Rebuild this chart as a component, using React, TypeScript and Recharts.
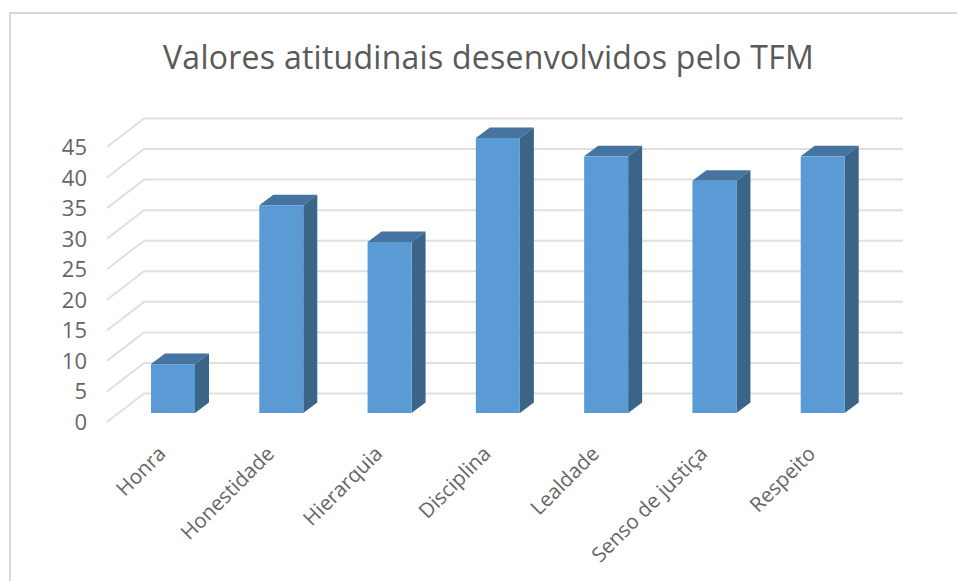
import { BarChart, Bar, XAxis, YAxis, CartesianGrid } from "recharts";

const categories = ["Honra", "Honestidade", "Hierarquia", "Disciplina", "Lealdade", "Senso de justiça", "Respeito"];
const values = [8, 34, 28, 45, 42, 38, 42];
const yTicks = [0, 5, 10, 15, 20, 25, 30, 35, 40, 45];
const chartTitle = "Valores atitudinais desenvolvidos pelo TFM";

const data = categories.map((name, i) => ({ name, value: values[i] }));

const FONT = "'Open Sans', sans-serif";
const DEPTH_X = 14;
const DEPTH_Y = 10.5;

// front face plus top and side faces, faking the 3D column look
const Column3D = ({ x, y, width, height }: any) => {
  const r = x + width;
  const b = y + height;
  return (
    <g>
      <path
        d={`M${x} ${y}L${x + DEPTH_X} ${y - DEPTH_Y}L${r + DEPTH_X} ${y - DEPTH_Y}L${r} ${y}Z`}
        fill="#44749f"
      />
      <path
        d={`M${r} ${y}L${r + DEPTH_X} ${y - DEPTH_Y}L${r + DEPTH_X} ${b - DEPTH_Y}L${r} ${b}Z`}
        fill="#3a6488"
      />
      <rect x={x} y={y} width={width} height={height} fill="#5b9bd5" />
    </g>
  );
};

// gridline runs along the side wall and then across the back wall
const WallLine = ({ x1, x2, y1 }: any) => (
  <path
    d={`M${x1 - 12} ${y1 + 9}L${x1 + 25} ${y1 - 19.5}L${x2 + 26} ${y1 - 19.5}`}
    fill="none"
    stroke="#e0e0e0"
    strokeWidth={2}
  />
);

const YTick = ({ x, y, payload }: any) => (
  <text x={x - 24} y={y + 17} textAnchor="end" fontFamily={FONT} fontSize={22} fill="#666">
    {payload.value}
  </text>
);

const XTick = ({ x, y, payload }: any) => (
  <text
    x={x - 6}
    y={y + 34}
    textAnchor="end"
    fontFamily={FONT}
    fontSize={20.5}
    fill="#666"
    transform={`rotate(-45 ${x - 6} ${y + 34})`}
  >
    {payload.value}
  </text>
);

export default function App() {
  return (
    <div style={{ position: "absolute", left: 0, top: 0, width: 957, height: 581, background: "#fff", overflow: "hidden" }}>
      <div style={{ position: "absolute", left: 9, top: 12, right: -4, bottom: -4, borderLeft: "2px solid #d9d9d9", borderTop: "2px solid #d9d9d9" }} />
      <div
        style={{
          position: "absolute",
          left: 163,
          top: 35,
          fontFamily: FONT,
          fontSize: 32,
          letterSpacing: 0.26,
          color: "#595959",
          whiteSpace: "nowrap",
        }}
      >
        {chartTitle}
      </div>
      <div style={{ position: "absolute", left: 0, top: 0 }}>
        <BarChart width={957} height={581} data={data} margin={{ top: 138, right: 80, left: 19, bottom: 138 }}>
          <CartesianGrid vertical={false} horizontal={(props: any) => <WallLine key={props.key ?? props.y1} {...props} />} />
          <XAxis dataKey="name" interval={0} height={30} axisLine={false} tickLine={false} tick={<XTick />} />
          <YAxis width={100} domain={[0, 45]} ticks={yTicks} axisLine={false} tickLine={false} tick={<YTick />} />
          <Bar dataKey="value" barSize={44} shape={<Column3D />} isAnimationActive={false} />
        </BarChart>
      </div>
    </div>
  );
}
